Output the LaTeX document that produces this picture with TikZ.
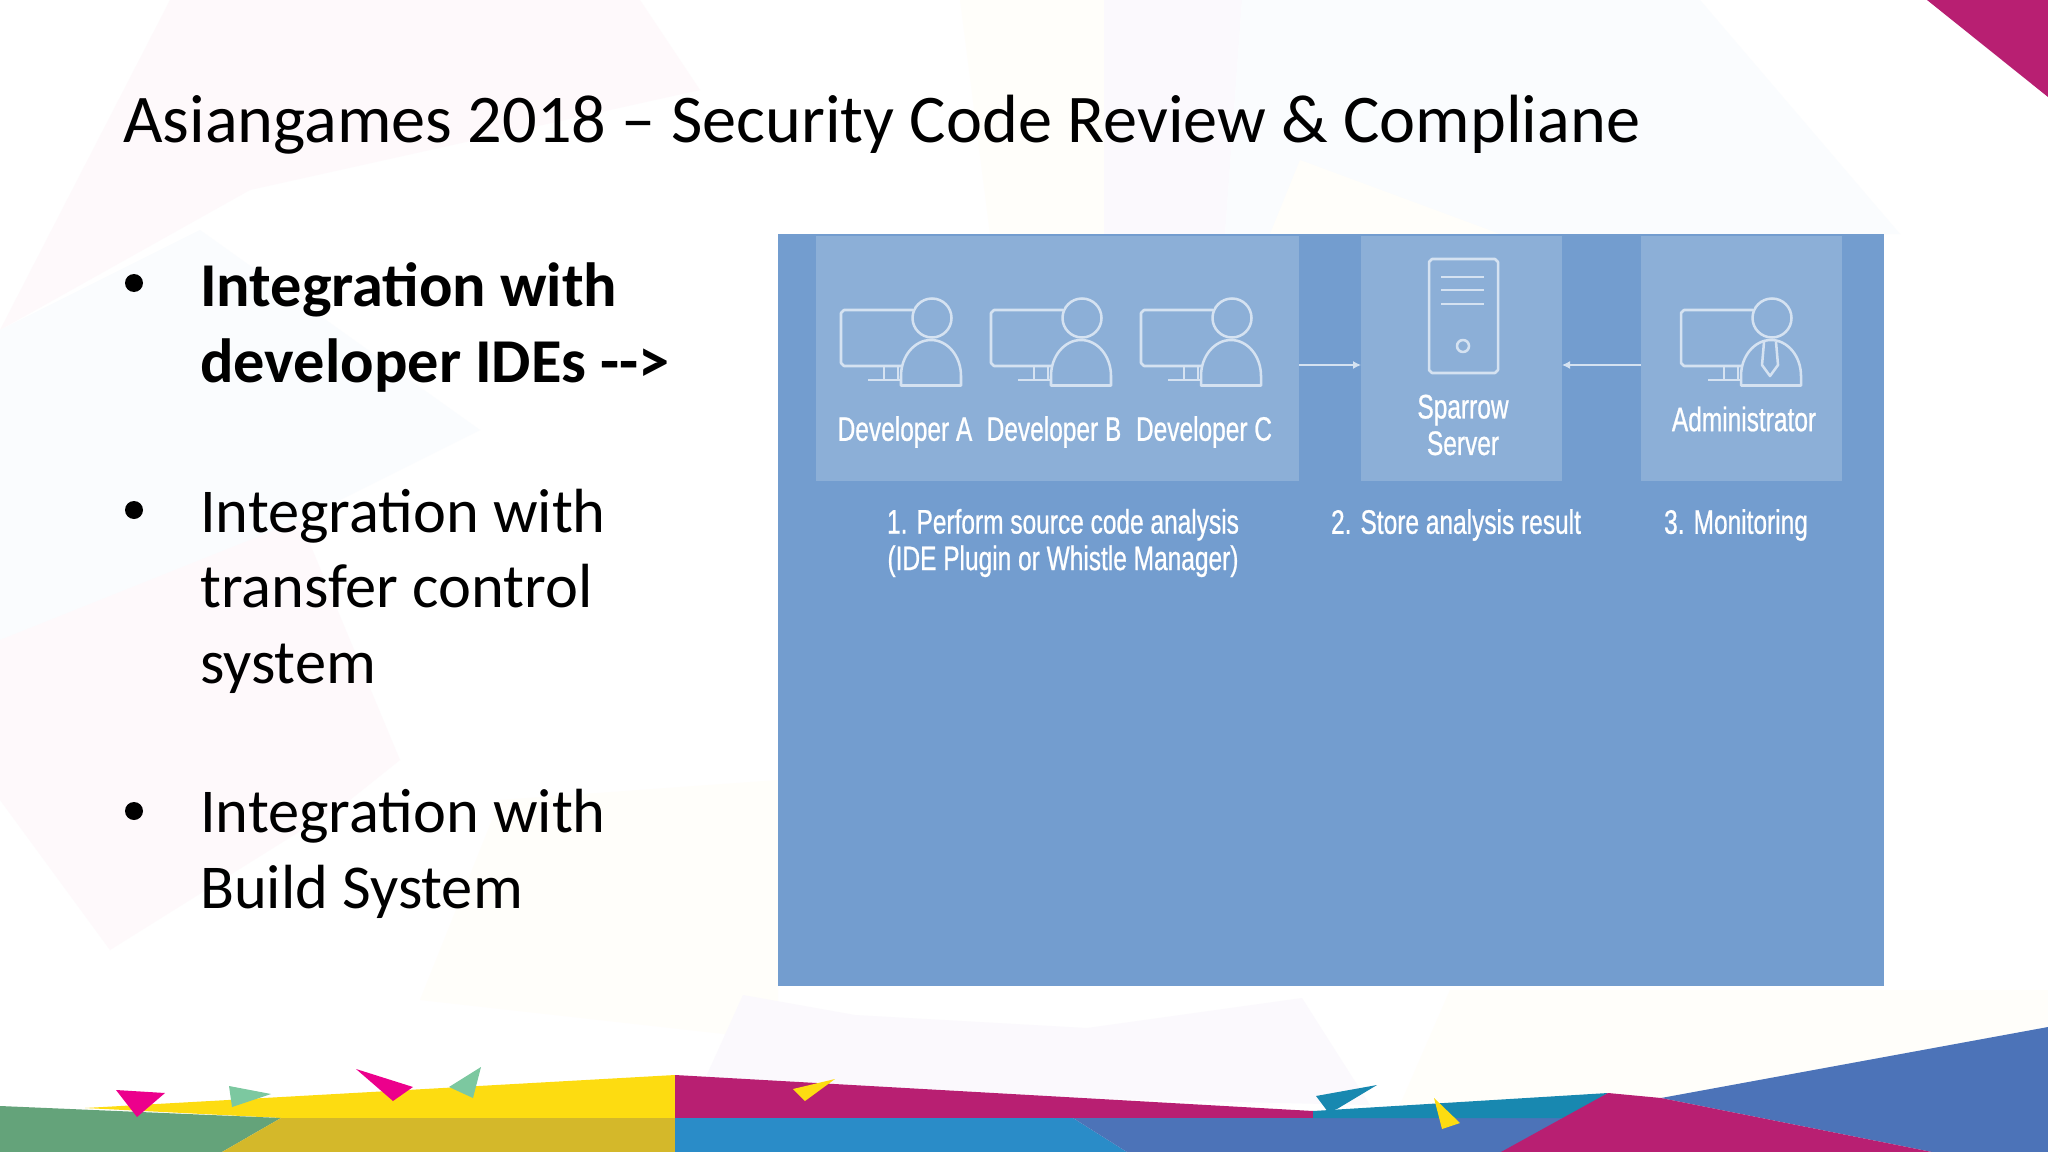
\documentclass[tikz,border=0pt]{standalone}
\usepackage{fontspec}
\usetikzlibrary{arrows.meta}
\setmainfont{Carlito}
\newfontfamily\condfont[FakeStretch=0.72,FakeBold=0.7]{Liberation Sans}
\definecolor{panelblue}{HTML}{739DCF}
\definecolor{boxblue}{HTML}{8CAFD7}
\definecolor{iconline}{HTML}{D5E2F1}
\definecolor{mag}{HTML}{B81F72}
\definecolor{hotpink}{HTML}{EC008C}
\definecolor{mint}{HTML}{7CC8A0}
\definecolor{sunny}{HTML}{FDDC11}
\definecolor{olive}{HTML}{D4B82A}
\definecolor{leaf}{HTML}{64A37A}
\definecolor{sky}{HTML}{2A8CC8}
\definecolor{slate}{HTML}{4C73B8}
\definecolor{teal2}{HTML}{1888B0}
\definecolor{palepink}{HTML}{FEF9FB}
\definecolor{paleblue}{HTML}{FAFCFE}
\definecolor{palecream}{HTML}{FFFEFA}
\definecolor{palelav}{HTML}{FBF9FD}
\tikzset{
  x=0.75pt,y=-0.75pt,
  iconstroke/.style={draw=iconline,line width=1.9pt,line join=round},
  flow/.style={draw=iconline,line width=1pt,-{Latex[length=6pt,width=6pt]}},
  boxfill/.style={fill=boxblue,draw=none,inner sep=0pt,outer sep=0pt},
  caplabel/.style={font=\condfont\fontsize{25.5}{27.4}\selectfont,text=white,align=center,inner sep=0pt},
  bulletitem/.style={anchor=base west,align=left,inner sep=0pt,font=\fontsize{46.8}{56.5}\selectfont,text=black},
  dot/.style={circle,fill=black,inner sep=0pt,minimum size=13.5pt}
}
\newcommand{\workstation}[2]{%
  \begin{scope}[shift={(#1,#2)}]
    \draw[iconstroke] (72,0) -- (3,0) -- (0,3) -- (0,53) -- (3,56) -- (60,56);
    \draw[iconstroke] (43,56) -- (43,70) (57,56) -- (57,70) (27,70) -- (60,70);
    \draw[iconstroke] (91,8) circle (19.5);
    \draw[iconstroke] (60,75.5) -- (60,66) arc[start angle=180,end angle=360,x radius=30,y radius=36] -- (120,75.5) -- cycle;
  \end{scope}}
\begin{document}
\begin{tikzpicture}
\useasboundingbox (0,0) rectangle (2048,1152);
\fill[white] (0,0) rectangle (2048,1152);
% faint background
\fill[palepink] (0,330) -- (250,190) -- (520,130) -- (700,90) -- (640,0) -- (170,0) -- cycle;
\fill[paleblue] (0,330) -- (200,230) -- (480,430) -- (300,520) -- (0,640) -- cycle;
\fill[palepink] (0,640) -- (300,520) -- (400,760) -- (350,800) -- (110,950) -- (0,800) -- cycle;
\fill[palecream] (500,800) -- (778,780) -- (778,1040) -- (420,1000) -- cycle;
\fill[palecream] (960,0) -- (1104,0) -- (1104,234) -- (990,234) -- cycle;
\fill[palelav] (1104,0) -- (1242,0) -- (1225,234) -- (1104,234) -- cycle;
\fill[paleblue] (1242,0) -- (1700,0) -- (1900,234) -- (1225,234) -- cycle;
\fill[palecream] (1300,160) -- (1500,234) -- (1270,234) -- cycle;
\fill[palelav] (743,995) -- (855,1015) -- (1087,1028) -- (1302,998) -- (1370,1105) -- (700,1090) -- cycle;
\fill[palecream] (1450,990) -- (2048,990) -- (2048,1027) -- (1661,1098) -- (1400,1105) -- cycle;
% top-right corner
\fill[mag] (1927,0) -- (2048,0) -- (2048,97) -- cycle;
% bottom band
\fill[sunny] (85,1108) -- (675,1075) -- (675,1118) -- (281,1118) -- cycle;
\fill[leaf] (0,1106) -- (281,1118) -- (222,1152) -- (0,1152) -- cycle;
\fill[olive] (281,1118) -- (675,1118) -- (675,1152) -- (222,1152) -- cycle;
\fill[mag] (675,1075) -- (1313,1111) -- (1313,1118) -- (675,1118) -- cycle;
\fill[sky] (675,1118) -- (1073,1118) -- (1127,1152) -- (675,1152) -- cycle;
\fill[slate] (1073,1118) -- (1570,1118) -- (1510,1152) -- (1127,1152) -- cycle;
\fill[teal2] (1313,1111) -- (1608,1093) -- (1570,1118) -- (1313,1118) -- cycle;
\fill[slate] (1661,1098) -- (2048,1027) -- (2048,1152) -- (1932,1152) -- cycle;
\fill[mag] (1608,1093) -- (1661,1098) -- (1932,1152) -- (1501,1152) -- cycle;
\fill[hotpink] (116,1090) -- (165,1093) -- (137,1117) -- cycle;
\fill[mint] (229,1086) -- (271,1094) -- (232,1107) -- cycle;
\fill[hotpink] (356,1069) -- (413,1087) -- (393,1101) -- cycle;
\fill[mint] (481,1067) -- (449,1087) -- (473,1098) -- cycle;
\fill[sunny] (835,1079) -- (793,1089) -- (805,1101) -- cycle;
\fill[teal2] (1377,1085) -- (1316,1096) -- (1328,1112) -- (1337,1109) -- cycle;
\fill[sunny] (1434,1098) -- (1460,1123) -- (1442,1129) -- cycle;
% title
\node[anchor=base west,inner sep=0pt,font=\fontsize{51.2}{56}\selectfont] (title) at (123,143) {Asiangames 2018 – Security Code Review \& Compliane};
% bullets
\node[dot] (b1) at (134,283) {};
\node[bulletitem,font=\fontsize{46.8}{56.5}\selectfont\bfseries] (t1) at (200,382) {Integration with\\developer IDEs -{}->};
\node[dot] (b2) at (134,510) {};
\node[bulletitem] (t2) at (200,683) {Integration with\\transfer control\\system};
\node[dot] (b3) at (134,811) {};
\node[bulletitem] (t3) at (200,908) {Integration with\\Build System};
% panel
\fill[panelblue] (778,234) rectangle (1884,986);
\node[boxfill,minimum width=483*0.75pt,minimum height=245*0.75pt] (devs) at (1057.5,358.5) {};
\node[boxfill,minimum width=201*0.75pt,minimum height=245*0.75pt] (server) at (1461.5,358.5) {};
\node[boxfill,minimum width=201*0.75pt,minimum height=245*0.75pt] (admin) at (1741,358.5) {};
\path (devs.east |- 0,365) coordinate (fromdevs);
\path (server.west |- 0,365) coordinate (toserverl);
\path (server.east |- 0,365) coordinate (toserverr);
\path (admin.west |- 0,365) coordinate (fromadmin);
\draw[flow] (fromdevs) -- (toserverl);
\draw[flow] (fromadmin) -- (toserverr);
% icons
\workstation{841}{310}
\workstation{991}{310}
\workstation{1141}{310}
\workstation{1681}{310}
\draw[iconstroke] (1764,342) -- (1762,365) -- (1770,376) -- (1778,365) -- (1776,342);
\draw[iconstroke] (1429,262) -- (1432,259) -- (1495,259) -- (1498,262) -- (1498,370) -- (1495,373) -- (1432,373) -- (1429,370) -- cycle;
\draw[iconstroke] (1441,277) -- (1484,277) (1441,290) -- (1484,290) (1441,304) -- (1484,304);
\draw[iconstroke] (1463,346) circle (6);
% labels
\node[caplabel] (la) at (905,432) {Developer A};
\node[caplabel] (lb) at (1054,432) {Developer B};
\node[caplabel] (lc) at (1204,432) {Developer C};
\node[caplabel] (ls) at (1463,425) {Sparrow\\Server};
\node[caplabel] (ladm) at (1744,419) {Administrator};
\node[caplabel] (s1) at (1063,543) {1. Perform source code analysis\\(IDE Plugin or Whistle Manager)};
\node[caplabel] (s2) at (1456,525) {2. Store analysis result};
\node[caplabel] (s3) at (1736,525) {3. Monitoring};
\end{tikzpicture}
\end{document}
